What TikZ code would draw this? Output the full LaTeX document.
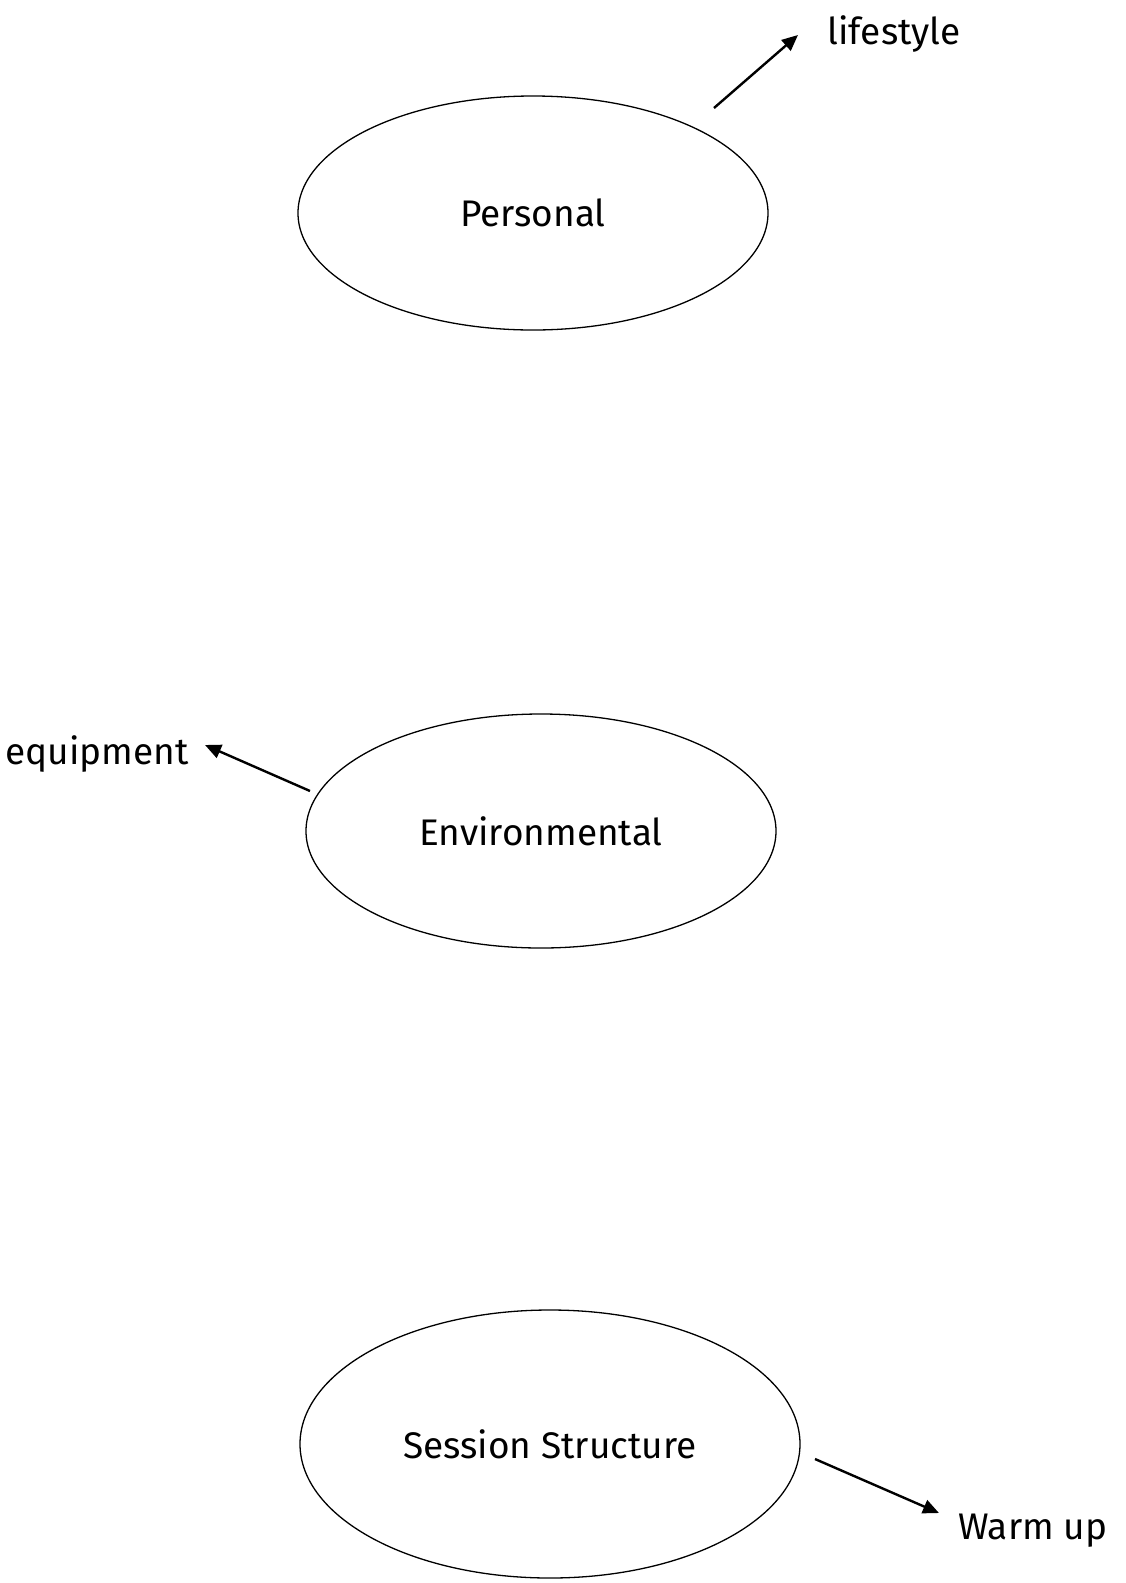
\documentclass[tikz,border=0pt]{standalone}
\usepackage{fontspec}
\setmainfont{Fira Sans}
\usetikzlibrary{shapes.geometric,arrows.meta}
\tikzset{
  factor/.style={draw, ellipse, line width=1.3pt, inner sep=0pt},
  lbl/.style={font=\fontsize{37}{44}\selectfont},
  ptr/.style={line width=2.4pt, -{Triangle[length=16pt, width=14pt]}}
}

\begin{document}
\begin{tikzpicture}[x=1pt, y=-1pt]
    \useasboundingbox (0,0) rectangle (1126,1583);

    \node[factor, minimum width=470, minimum height=234, lbl] (personal)
      at (533,213) {Personal};
    \node[factor, minimum width=470, minimum height=234, lbl] (environ)
      at (541,831) {Environmental};
    \node[factor, minimum width=500, minimum height=268, lbl] (session)
      at (550,1444) {Session Structure};

    \node[lbl, anchor=west] (lifestyle) at (824,34) {lifestyle};
    \node[lbl, anchor=east] (equip) at (192,754) {equipment};
    \node[lbl, anchor=west] (warmup) at (955,1531) {Warm up};

    % arrow ends
    \coordinate (pstart) at (714,108);
    \coordinate (pend) at (798,35);
    \coordinate (estart) at (310,791);
    \coordinate (eend) at (205,745);
    \coordinate (sstart) at (815,1459);
    \coordinate (send) at (939,1513);

    \draw[ptr] (pstart) -- (pend);
    \draw[ptr] (estart) -- (eend);
    \draw[ptr] (sstart) -- (send);
  \end{tikzpicture}
\end{document}
